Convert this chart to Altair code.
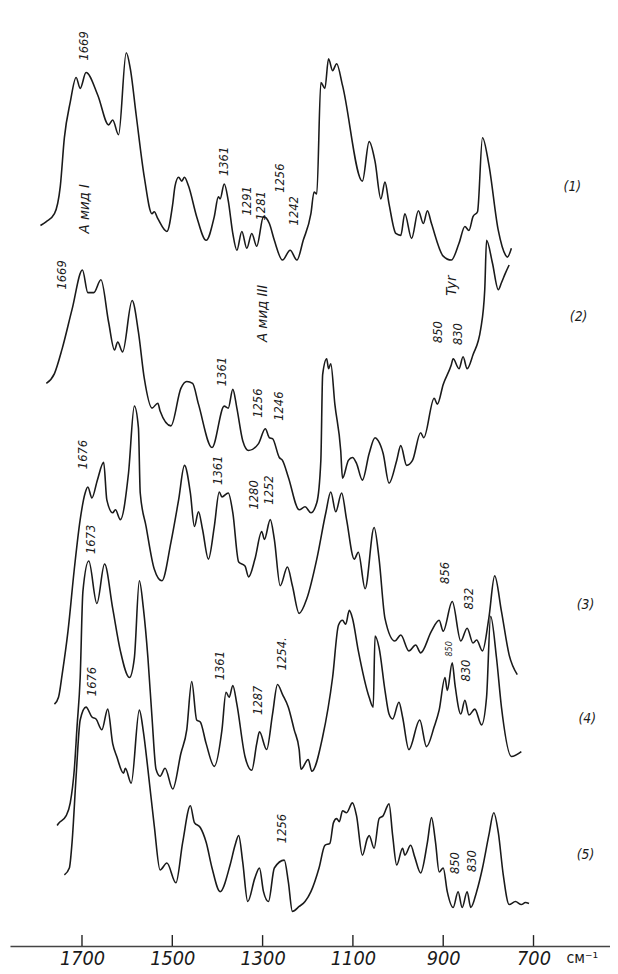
import altair as alt
import pandas as pd

# ---- spectra (wavenumber, cm-1 ; relative intensity incl. vertical offset, arb. units) ----
T1_WN = [1792,1779,1761,1748,1739,1726,1713,1704,1691,1665,1641,1632,1619,1602,1593,1580,1562,1545,1540,1532,
         1512,1499,1494,1486,1479,1473,1464,1446,1425,1407,1398,1394,1385,1376,1366,1357,1346,1335,1324,1313,
         1298,1285,1274,1256,1239,1224,1210,1193,1186,1180,1171,1162,1154,1145,1136,1123,1079,1064,1051,1038,
         1029,1020,1005,994,985,970,955,944,935,926,900,882,865,852,843,834,824,813,799,778,762,758,749]
T1_I = [730,734,742,770,819,855,880,869,885,862,832,837,822,905,889,842,779,742,744,737,
        724,752,770,779,775,779,770,739,715,739,759,757,772,755,722,705,724,707,722,709,
        739,732,715,695,705,695,715,742,764,762,875,869,899,887,894,872,775,815,795,757,
        774,752,722,720,742,717,745,732,745,732,699,695,712,729,725,739,744,819,792,725,700,698,707]

T2_WN = [1779,1761,1744,1722,1699,1687,1674,1658,1641,1628,1621,1610,1589,1575,1562,1545,1532,1527,1503,1481,
         1468,1455,1442,1412,1385,1376,1366,1357,1344,1331,1309,1294,1285,1278,1263,1256,1243,1219,1206,1193,
         1180,1171,1167,1158,1154,1149,1140,1127,1123,1110,1101,1092,1079,1064,1051,1044,1033,1020,1003,994,
         981,968,950,943,920,913,900,882,878,865,856,847,834,817,808,804,791,778,771,762,754]
T2_I = [570,580,605,645,685,662,662,675,632,604,612,602,654,622,575,545,550,542,527,565,
        572,570,549,505,547,545,564,545,512,502,509,524,515,514,495,492,475,442,445,439,
        449,492,579,595,585,590,549,502,474,492,495,489,472,499,515,512,499,469,492,507,
        487,492,520,515,555,549,569,589,595,585,597,585,599,625,665,715,692,665,672,682,690]

T3_WN = [1761,1752,1744,1731,1717,1704,1693,1687,1678,1666,1652,1645,1632,1626,1615,1597,1584,1575,1571,1558,
         1540,1523,1503,1486,1473,1460,1451,1442,1433,1420,1407,1396,1390,1376,1366,1353,1339,1331,1317,1302,
         1296,1283,1274,1261,1245,1234,1219,1202,1180,1160,1149,1138,1125,1114,1097,1088,1073,1053,1042,1029,
         1007,994,976,961,950,926,909,900,880,861,847,834,826,813,799,786,771,754,736]
T3_I = [245,252,275,319,382,432,459,465,454,472,490,452,439,442,432,479,547,525,459,425,
        382,370,409,452,487,459,425,440,422,392,425,460,455,459,439,389,385,374,392,420,
        412,432,412,365,384,365,337,352,392,439,460,440,459,432,392,399,362,424,392,332,
        309,315,299,305,297,319,330,319,349,309,322,307,310,299,332,375,339,295,275]

T4_WN = [1755,1752,1735,1726,1717,1711,1704,1698,1685,1667,1650,1632,1615,1595,1584,1573,1564,1554,1545,1536,
         1527,1516,1499,1481,1468,1457,1446,1438,1425,1407,1390,1381,1374,1366,1357,1339,1324,1313,1307,1291,
         1278,1267,1256,1243,1230,1219,1215,1199,1191,1167,1145,1132,1123,1116,1108,1101,1088,1064,1055,1051,
         1042,1029,1020,1012,998,990,976,952,937,920,909,896,891,880,874,861,852,843,830,815,
         804,795,782,771,749,727]
T4_I = [122,124,132,145,179,222,272,359,390,347,387,342,299,272,292,370,342,292,232,179,
        172,180,159,195,219,268,229,227,205,182,219,257,252,264,245,192,178,205,217,199,
        235,265,255,242,219,199,179,189,177,212,272,325,330,326,340,332,299,252,242,314,
        302,259,235,230,247,232,199,229,202,222,239,272,259,287,265,235,249,234,240,224,
        252,334,292,242,192,197]

T5_WN = [1739,1728,1722,1713,1704,1691,1678,1669,1656,1643,1632,1623,1608,1604,1591,1573,1564,1554,1540,1527,
         1512,1492,1477,1460,1451,1438,1425,1412,1394,1372,1361,1353,1344,1333,1317,1307,1298,1287,1274,1252,
         1243,1234,1219,1206,1193,1175,1162,1151,1143,1136,1130,1123,1114,1101,1092,1079,1068,1064,1053,1042,
         1033,1020,1012,1003,990,985,972,963,950,935,926,917,909,900,891,878,867,858,847,839,
         826,813,799,788,778,767,754,740,727,718,710]
T5_I = [72,79,105,172,229,242,232,230,219,240,205,192,175,180,165,239,217,179,122,77,
        84,64,105,142,125,120,105,79,55,82,102,112,85,45,69,79,55,45,79,87,
        65,35,40,45,55,79,102,104,125,129,126,137,135,145,132,92,109,112,99,129,
        132,144,112,82,99,92,102,90,74,105,130,105,75,79,55,39,55,39,55,39,
        55,79,112,135,115,72,42,45,42,44,43]

TRACES = [("1", T1_WN, T1_I), ("2", T2_WN, T2_I), ("3", T3_WN, T3_I), ("4", T4_WN, T4_I), ("5", T5_WN, T5_I)]

# ---- x-axis ticks ----
TICKS = [1700, 1500, 1300, 1100, 900, 700]

# ---- peak annotations (text, wavenumber, intensity level) ----
NUM_TEXT = ["1669","1361","1291","1281","1256","1242",
            "1669","1361","1256","1246","850","830",
            "1676","1361","1280","1252","856","832",
            "1673","1361","1287","1254.","830",
            "1676","1256","850","830"]
NUM_WN = [1696,1386,1334,1303,1262,1231,
          1744,1390,1309,1263,911,867,
          1698,1398,1320,1285,896,843,
          1680,1394,1311,1258,850,
          1678,1256,874,837]
NUM_I = [912,795,755,750,778,745,
         680,582,550,547,622,620,
         498,482,457,462,378,352,
         412,284,249,296,279,
         268,119,84,86]

SMALL_TEXT = ["850"]
SMALL_WN = [887]
SMALL_I = [301]

BAND_TEXT = ["А мид I", "А мид III", "Tyr"]
BAND_WN = [1696, 1302, 882]
BAND_I = [747, 641, 669]

SERIES_TEXT = ["(1)", "(2)", "(3)", "(4)", "(5)"]
SERIES_WN = [614, 600, 585, 581, 585]
SERIES_I = [769, 637, 345, 230, 92]

UNIT_TEXT = ["см⁻¹"]
UNIT_WN = [592]
UNIT_I = [-12]

rows = []
for name, wn, inten in TRACES:
    for w, v in zip(wn, inten):
        rows.append({"trace": name, "wn": w, "I": v})
spec = pd.DataFrame(rows)

X_SCALE = alt.Scale(domain=[530.6, 1859.5], reverse=True, nice=False, zero=False)
Y_SCALE = alt.Scale(domain=[0, 944], nice=False, zero=False)
FONT = "Liberation Sans Narrow, DejaVu Sans Condensed, Liberation Sans, DejaVu Sans"
INK = "#1a1a1a"

lines = alt.Chart(spec).mark_line(color=INK, strokeWidth=1.6, strokeJoin="round",
                                  interpolate="monotone").encode(
    x=alt.X("wn:Q", scale=X_SCALE,
            axis=alt.Axis(values=TICKS, format="d", ticks=False, grid=False, domain=True,
                          domainColor="#444", domainWidth=1.5, labelFont=FONT, labelFontSize=20,
                          labelFontStyle="italic", labelColor=INK, labelPadding=3, title=None)),
    y=alt.Y("I:Q", scale=Y_SCALE, axis=None),
    detail="trace:N",
    order=alt.Order("wn:Q", sort="descending"),
)

# upward tick marks on the wavenumber axis
tick_df = pd.DataFrame({"wn": TICKS, "lo": [0] * len(TICKS), "hi": [11] * len(TICKS)})
ticks = alt.Chart(tick_df).mark_rule(color="#222222", strokeWidth=1.4).encode(
    x=alt.X("wn:Q", scale=X_SCALE),
    y=alt.Y("lo:Q", scale=Y_SCALE),
    y2=alt.Y2("hi:Q"),
)

def text_layer(texts, wns, ints, size, angle, italic=True, font=FONT):
    df = pd.DataFrame({"t": texts, "wn": wns, "I": ints})
    kw = dict(fontSize=size, font=font, color=INK, align="center", baseline="middle")
    if angle:
        kw["angle"] = angle
    if italic:
        kw["fontStyle"] = "italic"
    return alt.Chart(df).mark_text(**kw).encode(
        x=alt.X("wn:Q", scale=X_SCALE), y=alt.Y("I:Q", scale=Y_SCALE), text="t:N")

nums = text_layer(NUM_TEXT, NUM_WN, NUM_I, 13, 270)
small = text_layer(SMALL_TEXT, SMALL_WN, SMALL_I, 9, 270)
bands = text_layer(BAND_TEXT, BAND_WN, BAND_I, 15, 270)
series = text_layer(SERIES_TEXT, SERIES_WN, SERIES_I, 14, 0)
unit = text_layer(UNIT_TEXT, UNIT_WN, UNIT_I, 16, 0, italic=False, font="DejaVu Sans Condensed, DejaVu Sans")

chart = alt.layer(lines, ticks, nums, small, bands, series, unit).properties(
    width=608, height=944, padding={"left": 2, "top": 0, "right": 0, "bottom": 22},
    autosize=alt.AutoSizeParams(type="none"),
    background="white",
).configure_view(strokeWidth=0)

chart.save("out.html", embed_options={"renderer": "svg", "actions": False})
